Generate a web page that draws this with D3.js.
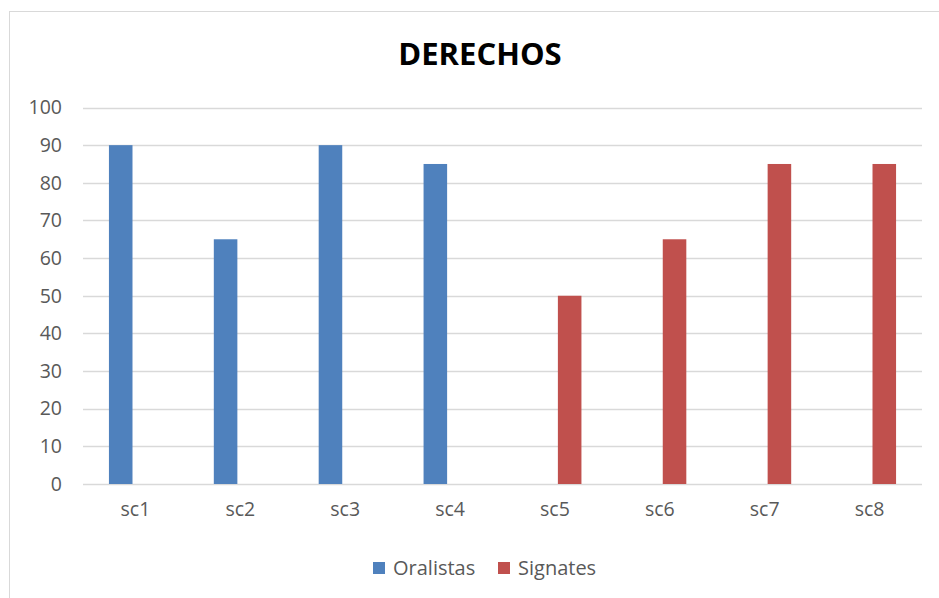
<!DOCTYPE html>
<html>
<head>
<meta charset="utf-8">
<script src="https://cdn.jsdelivr.net/npm/d3@7"></script>
<style>
  body { margin: 0; background: #fff; }
  text { font-family: "Open Sans", sans-serif; fill: #595959; }
</style>
</head>
<body>
<script>
var categories = ["sc1", "sc2", "sc3", "sc4", "sc5", "sc6", "sc7", "sc8"];
var seriesNames = ["Oralistas", "Signates"];
var oralistas = [90, 65, 90, 85, 0, 0, 0, 0];
var signates = [0, 0, 0, 0, 50, 65, 85, 85];
var yTicks = [0, 10, 20, 30, 40, 50, 60, 70, 80, 90, 100];
var colors = ["#4f81bd", "#c0504d"];

var width = 939, height = 598;
var margin = {top: 107.5, right: 17, bottom: 114, left: 83};

var svg = d3.select("body").append("svg")
    .attr("width", width)
    .attr("height", height);

// chart frame
svg.append("rect")
    .attr("x", 9.5).attr("y", 11.5)
    .attr("width", 940).attr("height", 600)
    .attr("fill", "#fff")
    .attr("stroke", "#d9d9d9");

var x0 = d3.scaleBand()
    .domain(categories)
    .range([margin.left, width - margin.right]);

var x1 = d3.scaleBand()
    .domain(seriesNames)
    .range([-26.5, 26.5])
    .paddingInner(0.2);

var y = d3.scaleLinear()
    .domain([0, 100])
    .range([height - margin.bottom, margin.top]);

// gridlines
svg.append("g")
    .selectAll("line")
    .data(yTicks)
    .join("line")
    .attr("x1", margin.left).attr("x2", width - margin.right)
    .attr("y1", function(d) { return Math.round(y(d)) + 0.5; })
    .attr("y2", function(d) { return Math.round(y(d)) + 0.5; })
    .attr("stroke", "#d9d9d9")
    .attr("stroke-width", 1.5);

// y axis labels
var yAxis = d3.axisLeft(y).tickValues(yTicks).tickSize(0).tickPadding(21);
var gy = svg.append("g")
    .attr("transform", "translate(" + margin.left + ",0)")
    .call(yAxis);
gy.select(".domain").remove();
gy.selectAll("text")
    .attr("font-size", "19.5px")
    .attr("font-family", null)
    .style("fill", "#595959");

// bars
var rows = categories.map(function(c, i) {
    return {cat: c, values: [oralistas[i], signates[i]]};
});

svg.append("g")
    .selectAll("g")
    .data(rows)
    .join("g")
    .attr("transform", function(d) { return "translate(" + (x0(d.cat) + x0.bandwidth() / 2) + ",0)"; })
    .selectAll("rect")
    .data(function(d) { return d.values.map(function(v, j) { return {name: seriesNames[j], value: v, k: j}; }); })
    .join("rect")
    .attr("x", function(d) { return x1(d.name); })
    .attr("width", x1.bandwidth())
    .attr("y", function(d) { return y(d.value); })
    .attr("height", function(d) { return y(0) - y(d.value); })
    .attr("fill", function(d) { return colors[d.k]; });

// x axis labels
var xAxis = d3.axisBottom(x0).tickSize(0).tickPadding(18);
var gx = svg.append("g")
    .attr("transform", "translate(0," + y(0) + ")")
    .call(xAxis);
gx.select(".domain").remove();
gx.selectAll("text")
    .attr("font-size", "19.5px")
    .attr("font-family", null)
    .style("fill", "#595959");

// title
svg.append("text")
    .attr("x", 480)
    .attr("y", 65)
    .attr("text-anchor", "middle")
    .attr("font-size", "31px")
    .attr("font-weight", "bold")
    .style("fill", "#000")
    .text("DERECHOS");

// legend
var legendX = [373, 498];
var legend = svg.append("g")
    .selectAll("g")
    .data(seriesNames)
    .join("g")
    .attr("transform", function(d, i) { return "translate(" + legendX[i] + ",562)"; });
legend.append("rect")
    .attr("width", 12).attr("height", 12)
    .attr("fill", function(d, i) { return colors[i]; });
legend.append("text")
    .attr("x", 20)
    .attr("y", 13)
    .attr("font-size", "20px")
    .text(function(d) { return d; });
</script>
</body>
</html>
